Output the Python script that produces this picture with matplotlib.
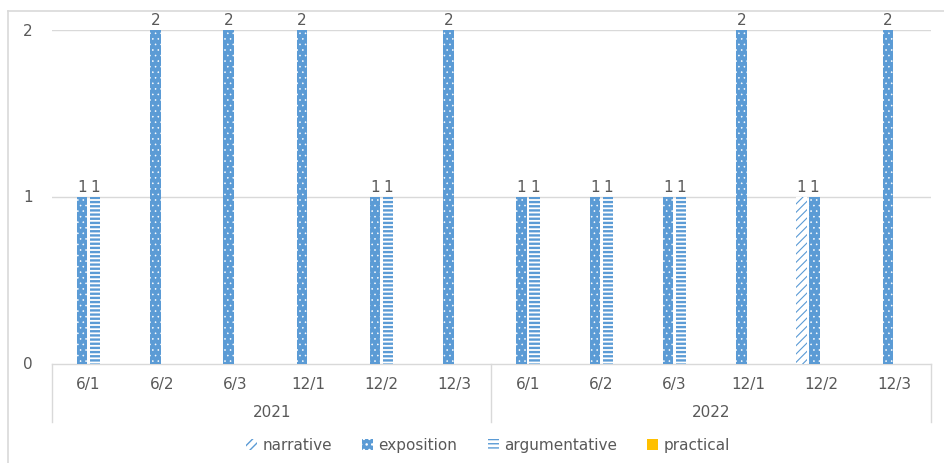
import matplotlib
matplotlib.use("Agg")
import matplotlib.pyplot as plt
import numpy as np
from matplotlib.patches import Patch
from matplotlib.lines import Line2D

# Essay types per exam session (year / month / set)
years = ["2021", "2022"]
sessions = ["6/1", "6/2", "6/3", "12/1", "12/2", "12/3"]
series_names = ["narrative", "exposition", "argumentative", "practical"]
narrative = [0, 0, 0, 0, 0, 0, 0, 0, 0, 0, 1, 0]
exposition = [1, 2, 2, 2, 1, 2, 1, 1, 1, 2, 1, 2]
argumentative = [1, 0, 0, 0, 1, 0, 1, 1, 1, 0, 0, 0]
practical = [0, 0, 0, 0, 0, 0, 0, 0, 0, 0, 0, 0]

BLUE = "#5B9BD5"
GOLD = "#FFC000"
GRID = "#D9D9D9"
TXT = "#595959"

plt.rcParams["font.family"] = ["DejaVu Sans"]

W, H = 945, 464
fig = plt.figure(figsize=(W / 100, H / 100), dpi=100)
x0, x1, y0, y1 = 52, 931, 31, 365
ax = fig.add_axes([x0 / W, 1 - y1 / H, (x1 - x0) / W, (y1 - y0) / H])

labels = [s for _ in years for s in sessions]
n = len(labels)
x = np.arange(n)
step = 0.1775
width = 0.143

styles = [
    dict(facecolor="white", edgecolor=BLUE, hatch="////", hlw=0.8),
    dict(facecolor=BLUE, edgecolor="white", hatch="...", hlw=0.4),
    dict(facecolor="white", edgecolor=BLUE, hatch="----", hlw=1.7),
    dict(facecolor=GOLD, edgecolor=GOLD, hatch=None, hlw=1.0),
]
values = [narrative, exposition, argumentative, practical]

for k, (vals, st) in enumerate(zip(values, styles)):
    pos = x + (k - 1.5) * step
    with plt.rc_context({"hatch.linewidth": st["hlw"]}):
        ax.bar(pos, vals, width=width, facecolor=st["facecolor"],
               edgecolor=st["edgecolor"], hatch=st["hatch"], linewidth=0,
               zorder=3)
    for xp, v in zip(pos, vals):
        if v:
            ax.text(xp, v + 0.02, f"{v}", ha="center", va="bottom",
                    fontsize=11, color=TXT, zorder=4)

ax.set_xlim(-0.5, n - 0.5)
ax.set_ylim(0, 2)
for gy in (1, 2):
    ax.axhline(gy, color=GRID, lw=1.0, zorder=1)
for side in ("top", "right", "left"):
    ax.spines[side].set_visible(False)
ax.spines["bottom"].set_color(GRID)
ax.spines["bottom"].set_linewidth(1.0)
ax.set_xticks([])
ax.set_yticks([])

# value axis labels
for v in (0, 1, 2):
    ax.text(-0.5 - 19 / 73.25, v, str(v), ha="right", va="center",
            fontsize=11, color=TXT)

# two-level category axis
tr = ax.get_xaxis_transform()
ah = y1 - y0
for i, lbl in enumerate(labels):
    ax.text(i, -(385 - y1) / ah, lbl, transform=tr, ha="center", va="center",
            fontsize=11, color=TXT)
for j, yr in enumerate(years):
    ax.text(j * len(sessions) + (len(sessions) - 1) / 2, -(413 - y1) / ah, yr,
            transform=tr, ha="center", va="center", fontsize=11, color=TXT)
for bx in (-0.5, len(sessions) - 0.5, n - 0.5):
    ax.plot([bx, bx], [0, -(423 - y1) / ah], transform=tr, color=GRID,
            lw=1.0, clip_on=False)

# outer chart frame (left and top edges)
fig.add_artist(Line2D([8 / W, 8 / W], [0, 1 - 12 / H], color=GRID, lw=1.2))
fig.add_artist(Line2D([8 / W, 1], [1 - 12 / H, 1 - 12 / H], color=GRID, lw=1.2))

handles = []
for name, st in zip(series_names, styles):
    handles.append(Patch(facecolor=st["facecolor"], edgecolor=st["edgecolor"],
                         hatch=st["hatch"], linewidth=0, label=name))
fig.legend(handles=handles, loc="center", bbox_to_anchor=(488 / W, 1 - 446 / H),
           ncol=4, frameon=False, fontsize=11, labelcolor=TXT,
           handlelength=0.7, handleheight=0.7, handletextpad=0.35,
           columnspacing=2.0)

fig.savefig("out.png", dpi=100)
